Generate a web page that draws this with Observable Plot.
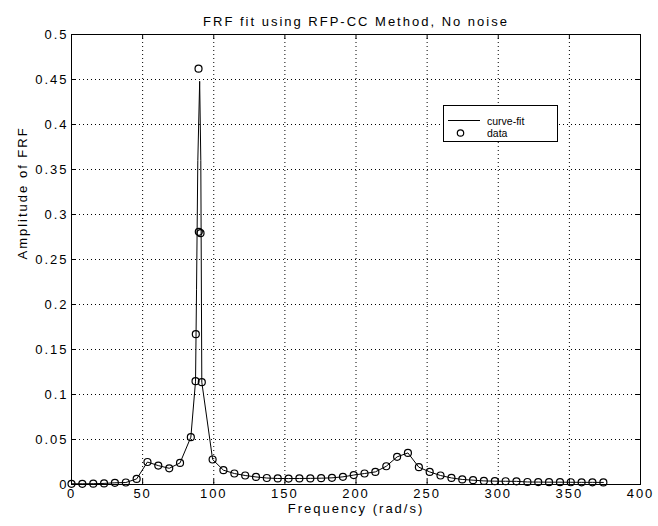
<!DOCTYPE html>
<html>
<head>
<meta charset="utf-8">
<script src="https://cdn.jsdelivr.net/npm/d3@7"></script>
<script src="https://cdn.jsdelivr.net/npm/@observablehq/plot@0.6"></script>
<style>
  html, body { margin: 0; padding: 0; background: white; }
  #wrap { position: relative; width: 658px; height: 526px; }
  #chart svg text { letter-spacing: 2px; }
  #legend { position: absolute; left: 443px; top: 105px; }
</style>
</head>
<body>
<div id="wrap"><div id="chart"></div><div id="legend"></div></div>
<script>
// ---- data ----
const titleText = "FRF fit using RFP-CC Method, No noise";
const xLabel = "Frequency (rad/s)";
const yLabel = "Amplitude of FRF";
const legendLabels = ["curve-fit", "data"];

const xTicks = [0, 50, 100, 150, 200, 250, 300, 350, 400];
const xTickLabels = ["0", "50", "100", "150", "200", "250", "300", "350", "400"];
const yTicks = [0, 0.05, 0.1, 0.15, 0.2, 0.25, 0.3, 0.35, 0.4, 0.45, 0.5];
const yTickLabels = ["0", "0.05", "0.1", "0.15", "0.2", "0.25", "0.3", "0.35", "0.4", "0.45", "0.5"];

// measured data points (circles)
const dataFreq = [0, 7.6, 15.3, 22.9, 30.5, 38.2, 45.8, 53.4, 61.0, 68.7, 76.3, 83.9,
  87.2, 87.4, 89.3, 89.5, 90.7,
  91.6, 99.2, 106.8, 114.5, 122.1, 129.7, 137.3, 145.0, 152.6, 160.2, 167.9, 175.5, 183.1, 190.8,
  198.4, 206.0, 213.6, 221.3, 228.9, 236.5, 244.2, 251.8, 259.4, 267.1, 274.7, 282.3, 289.9, 297.6,
  305.2, 312.8, 320.5, 328.1, 335.7, 343.4, 351.0, 358.6, 366.2, 373.9];
const dataAmp = [0.0008, 0.0008, 0.0009, 0.0012, 0.0019, 0.0022, 0.0062, 0.025, 0.021, 0.018, 0.024, 0.0526,
  0.1148, 0.167, 0.462, 0.2807, 0.2792,
  0.1137, 0.0278, 0.0159, 0.0122, 0.0100, 0.0084, 0.0072, 0.0067, 0.0066, 0.0067, 0.0068, 0.0070, 0.0074, 0.0085,
  0.0105, 0.0122, 0.0140, 0.0203, 0.0307, 0.0351, 0.0192, 0.0140, 0.0100, 0.0073, 0.0056, 0.0048, 0.0040, 0.0037,
  0.0036, 0.0035, 0.0028, 0.0027, 0.0026, 0.0026, 0.0025, 0.0024, 0.0024, 0.0023];

// fitted curve vertices
const curveFreq = [0, 7.6, 15.3, 22.9, 30.5, 38.2, 45.8, 53.4, 61.0, 68.7, 76.3, 83.9,
  87.2, 87.9, 88.8, 90.1, 90.9,
  91.6, 99.2, 106.8, 114.5, 122.1, 129.7, 137.3, 145.0, 152.6, 160.2, 167.9, 175.5, 183.1, 190.8,
  198.4, 206.0, 213.6, 221.3, 228.9, 236.5, 244.2, 251.8, 259.4, 267.1, 274.7, 282.3, 289.9, 297.6,
  305.2, 312.8, 320.5, 328.1, 335.7, 343.4, 351.0, 358.6, 366.2, 373.9];
const curveAmp = [0.0008, 0.0008, 0.0009, 0.0012, 0.0019, 0.0022, 0.0062, 0.025, 0.021, 0.018, 0.024, 0.0526,
  0.1148, 0.217, 0.36, 0.448, 0.36,
  0.1137, 0.0278, 0.0159, 0.0122, 0.0100, 0.0084, 0.0072, 0.0067, 0.0066, 0.0067, 0.0068, 0.0070, 0.0074, 0.0085,
  0.0105, 0.0122, 0.0140, 0.0203, 0.0307, 0.0351, 0.0192, 0.0140, 0.0100, 0.0073, 0.0056, 0.0048, 0.0040, 0.0037,
  0.0036, 0.0035, 0.0028, 0.0027, 0.0026, 0.0026, 0.0025, 0.0024, 0.0024, 0.0023];

// ---- build tables ----
const dataPts = dataFreq.map((f, i) => ({f, a: dataAmp[i]}));
const curvePts = curveFreq.map((f, i) => ({f, a: curveAmp[i]}));

const W = 658, H = 526, mL = 71, mR = 18, mT = 34, mB = 42;
const fw = W - mL - mR, fh = H - mT - mB, tick = 5;
const font = "'Liberation Sans', Arial, Helvetica, sans-serif";

const chart = Plot.plot({
  width: W, height: H,
  marginLeft: mL, marginRight: mR, marginTop: mT, marginBottom: mB,
  x: {domain: [0, 400]},
  y: {domain: [0, 0.5]},
  style: {fontFamily: font, fontSize: "13px", background: "white", color: "black", overflow: "visible"},
  marks: [
    Plot.gridX(xTicks, {stroke: "black", strokeOpacity: 1, strokeWidth: 1, strokeDasharray: "1,3"}),
    Plot.gridY(yTicks, {stroke: "black", strokeOpacity: 1, strokeWidth: 1, strokeDasharray: "1,3"}),
    Plot.ruleX(xTicks, {insetTop: fh - tick, stroke: "black"}),
    Plot.ruleX(xTicks, {insetBottom: fh - tick, stroke: "black"}),
    Plot.ruleY(yTicks, {insetRight: fw - tick, stroke: "black"}),
    Plot.ruleY(yTicks, {insetLeft: fw - tick, stroke: "black"}),
    Plot.frame({stroke: "black", strokeWidth: 1}),
    Plot.axisX(xTicks, {tickSize: 0, tickPadding: 4, tickFormat: d => xTickLabels[xTicks.indexOf(d)], label: null, fontSize: 13}),
    Plot.axisY(yTicks, {tickSize: 0, tickPadding: 3, tickFormat: d => yTickLabels[yTicks.indexOf(d)], label: null, fontSize: 13}),
    Plot.line(curvePts, {x: "f", y: "a", stroke: "black", strokeWidth: 1}),
    Plot.dot(dataPts, {x: "f", y: "a", r: 3.5, stroke: "black", strokeWidth: 1.2, fill: "none"}),
    Plot.text([titleText], {text: d => d, frameAnchor: "top", dy: -18, fontSize: 13}),
    Plot.text([xLabel], {text: d => d, frameAnchor: "bottom", dy: 28, fontSize: 13}),
    Plot.text([yLabel], {text: d => d, frameAnchor: "left", dx: -49, rotate: -90, fontSize: 13})
  ]
});
document.getElementById("chart").appendChild(chart);

// ---- legend box ----
const lw = 115, lh = 37;
const lsvg = d3.create("svg").attr("width", lw).attr("height", lh)
  .style("font-family", font).style("font-size", "10.5px").style("display", "block");
lsvg.append("rect").attr("x", 0.5).attr("y", 0.5).attr("width", lw - 1).attr("height", lh - 1)
  .attr("fill", "white").attr("stroke", "black");
lsvg.append("line").attr("x1", 5).attr("x2", 37).attr("y1", 15.5).attr("y2", 15.5).attr("stroke", "black");
lsvg.append("circle").attr("cx", 17.5).attr("cy", 28).attr("r", 3.2).attr("fill", "none").attr("stroke", "black").attr("stroke-width", 1.2);
lsvg.append("text").attr("x", 44).attr("y", 19.5).text(legendLabels[0]);
lsvg.append("text").attr("x", 44).attr("y", 32).text(legendLabels[1]);
document.getElementById("legend").appendChild(lsvg.node());
</script>
</body>
</html>
